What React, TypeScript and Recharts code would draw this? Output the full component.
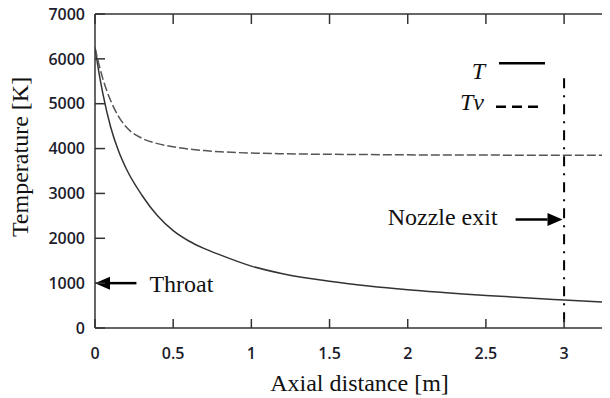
import React from 'react';
import { LineChart, Line, XAxis, YAxis, ReferenceLine, Legend } from 'recharts';

// Axial position along the nozzle [m]
const axialDistance = [0, 0.025, 0.05, 0.1, 0.15, 0.2, 0.3, 0.4, 0.5, 0.6, 0.7, 0.8, 1.0, 1.2, 1.5, 1.75, 2.0, 2.5, 3.0, 3.3];
// Translational temperature T [K]
const translationalTemp = [6250, 5700, 5230, 4480, 3950, 3550, 2960, 2500, 2170, 1940, 1770, 1630, 1380, 1210, 1040, 935, 850, 725, 625, 570];
// Vibrational temperature Tv [K]
const vibrationalTemp = [6250, 5880, 5560, 5070, 4720, 4480, 4230, 4110, 4040, 3990, 3955, 3930, 3900, 3885, 3872, 3866, 3860, 3855, 3850, 3850];

const xTicks = [0, 0.5, 1, 1.5, 2, 2.5, 3];
const yTicks = [0, 1000, 2000, 3000, 4000, 5000, 6000, 7000];
const xDomain: [number, number] = [0, 3.3];
const yDomain: [number, number] = [0, 7000];

// Annotated locations: throat at the inlet, nozzle exit at 3 m
const throatX = 0;
const throatLevel = 1000;
const throatArrowTail = 0.265;
const exitX = 3;
const exitLevel = 2420;
const exitArrowTail = 2.69;
const exitLineTop = 5570;

const series = [
  { key: 'T', name: 'T', stroke: '#333333', dash: undefined as string | undefined },
  { key: 'Tv', name: 'Tv', stroke: '#555555', dash: '9 3' },
];

const chartData = axialDistance.map((x, i) => ({
  x,
  T: translationalTemp[i],
  Tv: vibrationalTemp[i],
}));

// Chart layout
const CHART_W = 602;
const CHART_H = 390;
const MARGIN = { top: 6, right: -1, bottom: 0, left: 27 };
const Y_AXIS_W = 60;
const X_AXIS_H = 70;
const plotLeft = MARGIN.left + Y_AXIS_W;
const plotTop = MARGIN.top;
const plotRight = CHART_W - MARGIN.right;
const plotBottom = CHART_H - MARGIN.bottom - X_AXIS_H;

const serif = '"Liberation Serif", "Times New Roman", serif';
const sans = '"Open Sans", "Noto Sans", sans-serif';

const frameColor = '#333';
const axisLineStyle = { stroke: frameColor, strokeWidth: 1.5 };
const tickTextStyle = { fill: '#1c1c2c', fontSize: 16, fontFamily: sans, fontWeight: 600 };

const XTitle = () => (
  <text x={351.5} y={383} textAnchor="middle" fill="#111" style={{ fontFamily: serif, fontSize: 24 }}>
    Axial distance [m]
  </text>
);

const YTitle = () => (
  <text
    x={20}
    y={149}
    transform="rotate(-90 20 149)"
    textAnchor="middle"
    fill="#111"
    style={{ fontFamily: serif, fontSize: 24 }}
  >
    Temperature [K]
  </text>
);

// Horizontal arrow whose head sits on the segment's first point; the caption
// is placed beyond the tail.
function makeArrow(caption: string) {
  return (props: any) => {
    const { x1, y1, x2, y2 } = props;
    const dir = x2 > x1 ? 1 : -1; // direction from tip toward tail
    const headLen = 15;
    const half = 6.5;
    const baseX = x1 + dir * headLen;
    const textX = dir > 0 ? x2 + 13 : x2 - 18;
    return (
      <g>
        <line x1={baseX} y1={y1} x2={x2} y2={y2} stroke="#000" strokeWidth={2.5} />
        <polygon points={`${x1},${y1} ${baseX},${y1 - half} ${baseX},${y1 + half}`} fill="#000" />
        <text
          x={textX}
          y={y1 + (dir > 0 ? 8.5 : 6)}
          textAnchor={dir > 0 ? 'start' : 'end'}
          fill="#111"
          style={{ fontFamily: serif, fontSize: 24 }}
        >
          {caption}
        </text>
      </g>
    );
  };
}

// Frame position of a value on each axis
const frameX = (v: number) =>
  plotLeft + ((v - xDomain[0]) / (xDomain[1] - xDomain[0])) * (plotRight - plotLeft);
const frameY = (v: number) =>
  plotBottom - ((v - yDomain[0]) / (yDomain[1] - yDomain[0])) * (plotBottom - plotTop);

// Overlay: top/right frame edges, inward tick marks on all sides, and the key
const renderOverlay = () => (
  <svg width={CHART_W} height={CHART_H} style={{ display: 'block', pointerEvents: 'none' }}>
    <g stroke={frameColor} strokeWidth={1.5} fill="none">
      <line x1={plotLeft} y1={plotTop} x2={plotRight + 1} y2={plotTop} />
      <line x1={plotRight} y1={plotTop} x2={plotRight} y2={plotBottom} />
      {xTicks.map((t) => (
        <g key={`xt-${t}`}>
          <line x1={frameX(t)} y1={plotBottom} x2={frameX(t)} y2={plotBottom - 9} />
          <line x1={frameX(t)} y1={plotTop} x2={frameX(t)} y2={plotTop + 10} />
        </g>
      ))}
      {yTicks.map((t) => (
        <g key={`yt-${t}`}>
          <line x1={plotLeft} y1={frameY(t)} x2={plotLeft + 10} y2={frameY(t)} />
          <line x1={plotRight} y1={frameY(t)} x2={plotRight - 8} y2={frameY(t)} />
        </g>
      ))}
    </g>
    {series.map((s, i) => {
      const rowY = i === 0 ? 55.3 : 98.7;
      const textRight = i === 0 ? 477 : 476;
      const baseline = i === 0 ? 71 : 102;
      const lineStart = i === 0 ? 491 : 488;
      return (
        <g key={s.key}>
          <text
            x={textRight}
            y={baseline}
            textAnchor="end"
            fill="#111"
            style={{ fontFamily: serif, fontSize: 24, fontStyle: 'italic' }}
          >
            {s.name}
          </text>
          <line
            x1={lineStart}
            y1={rowY}
            x2={lineStart + 46}
            y2={rowY}
            stroke="#000"
            strokeWidth={2.5}
            strokeDasharray={s.dash ? '10 6' : undefined}
          />
        </g>
      );
    })}
  </svg>
);

export default function App() {
  return (
    <div style={{ width: CHART_W, height: CHART_H }}>
      <style>{'.recharts-surface { overflow: visible; }'}</style>
      <LineChart width={CHART_W} height={CHART_H} data={chartData} margin={MARGIN}>
        <XAxis
          dataKey="x"
          type="number"
          domain={xDomain}
          ticks={xTicks}
          interval={0}
          height={X_AXIS_H}
          tickSize={0}
          tickMargin={20}
          axisLine={axisLineStyle}
          tickLine={false}
          tick={tickTextStyle}
          allowDataOverflow
          label={XTitle}
        />
        <YAxis
          type="number"
          domain={yDomain}
          ticks={yTicks}
          interval={0}
          width={Y_AXIS_W}
          tickSize={0}
          tickMargin={10}
          axisLine={axisLineStyle}
          tickLine={false}
          tick={tickTextStyle}
          allowDataOverflow
          label={YTitle}
        />
        {series.map((s) => (
          <Line
            key={s.key}
            dataKey={s.key}
            name={s.name}
            type="monotone"
            stroke={s.stroke}
            strokeWidth={1.5}
            strokeDasharray={s.dash}
            dot={false}
            activeDot={false}
            isAnimationActive={false}
          />
        ))}
        <ReferenceLine
          segment={[{ x: exitX, y: exitLineTop }, { x: exitX, y: 0 }]}
          stroke="#000"
          strokeWidth={2}
          strokeDasharray="10 7 2 7"
        />
        <ReferenceLine
          segment={[{ x: throatX, y: throatLevel }, { x: throatArrowTail, y: throatLevel }]}
          shape={makeArrow('Throat')}
        />
        <ReferenceLine
          segment={[{ x: exitX - 0.01, y: exitLevel }, { x: exitArrowTail, y: exitLevel }]}
          shape={makeArrow('Nozzle exit')}
        />
        <Legend
          layout="horizontal"
          verticalAlign="middle"
          align="center"
          content={renderOverlay}
          wrapperStyle={{ left: 0, top: 0, width: CHART_W, height: CHART_H, pointerEvents: 'none' }}
        />
      </LineChart>
    </div>
  );
}
